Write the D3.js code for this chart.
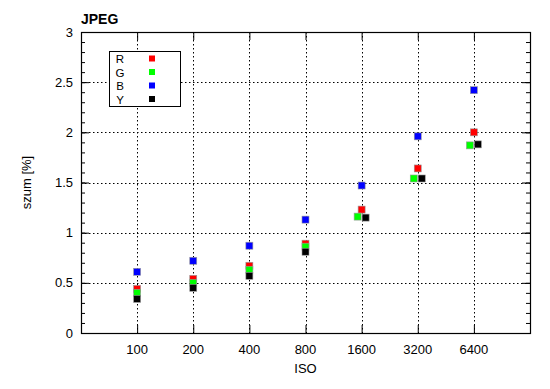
<!DOCTYPE html>
<html>
<head>
<meta charset="utf-8">
<script src="https://cdn.jsdelivr.net/npm/d3@7"></script>
<style>
  body { margin: 0; background: #fff; }
  text { font-family: "Liberation Sans", Arial, sans-serif; }
</style>
</head>
<body>
<div id="chart"></div>
<script>
// noise data
const isoValues = [100, 200, 400, 800, 1600, 3200, 6400];
const seriesNames = ["R", "G", "B", "Y"];
const seriesColors = ["#ff0000", "#00ff00", "#0000ff", "#000000"];
const rValues = [0.44, 0.54, 0.67, 0.89, 1.23, 1.64, 2.00];
const gValues = [0.40, 0.50, 0.63, 0.86, 1.16, 1.54, 1.87];
const bValues = [0.61, 0.72, 0.87, 1.13, 1.47, 1.96, 2.42];
const yValues = [0.34, 0.45, 0.57, 0.81, 1.15, 1.54, 1.88];
const yTicks = [0, 0.5, 1, 1.5, 2, 2.5, 3];

const W = 550, H = 389;
const margin = {top: 32, right: 20, bottom: 56, left: 81};

const svg = d3.select("#chart").append("svg")
  .attr("width", W).attr("height", H);

const x = d3.scaleLog().base(2).domain([50, 12800]).range([margin.left, W - margin.right]);
const y = d3.scaleLinear().domain([0, 3]).range([H - margin.bottom, margin.top]);

const x0 = margin.left, x1 = W - margin.right, y0 = H - margin.bottom, y1 = margin.top;

// grid
const grid = svg.append("g").attr("stroke", "#000").attr("stroke-width", 1)
  .attr("stroke-dasharray", "1.5,2.5");
grid.selectAll("line.gx").data(isoValues).join("line")
  .attr("x1", d => Math.round(x(d)) + 0.5).attr("x2", d => Math.round(x(d)) + 0.5)
  .attr("y1", y1).attr("y2", y0);
grid.selectAll("line.gy").data(yTicks.slice(1, -1)).join("line")
  .attr("x1", x0).attr("x2", x1)
  .attr("y1", d => Math.round(y(d)) + 0.5).attr("y2", d => Math.round(y(d)) + 0.5);

// axes (ticks pointing inward)
const minor = d3.range(0, 3.0001, 0.1);
svg.append("g").attr("transform", `translate(${x0},0)`)
  .call(d3.axisRight(y).tickValues(minor).tickSize(4).tickFormat(""))
  .call(g => g.select(".domain").remove());
svg.append("g").attr("transform", `translate(${x1},0)`)
  .call(d3.axisLeft(y).tickValues(minor).tickSize(4).tickFormat(""))
  .call(g => g.select(".domain").remove());
svg.append("g").attr("transform", `translate(${x0},0)`)
  .call(d3.axisRight(y).tickValues(yTicks).tickSize(8).tickFormat(""))
  .call(g => g.select(".domain").remove());
svg.append("g").attr("transform", `translate(${x1},0)`)
  .call(d3.axisLeft(y).tickValues(yTicks).tickSize(8).tickFormat(""))
  .call(g => g.select(".domain").remove());
svg.append("g").attr("transform", `translate(0,${y0})`)
  .call(d3.axisTop(x).tickValues(isoValues).tickSize(8).tickFormat(""))
  .call(g => g.select(".domain").remove());
svg.append("g").attr("transform", `translate(0,${y1})`)
  .call(d3.axisBottom(x).tickValues(isoValues).tickSize(8).tickFormat(""))
  .call(g => g.select(".domain").remove());

svg.append("rect")
  .attr("x", x0 + 0.5).attr("y", y1 + 0.5)
  .attr("width", x1 - x0).attr("height", y0 - y1)
  .attr("fill", "none").attr("stroke", "#000").attr("stroke-width", 1.2);

// tick labels
svg.append("g").selectAll("text").data(yTicks).join("text")
  .attr("x", x0 - 8).attr("y", d => y(d) + 4.5)
  .attr("text-anchor", "end").attr("font-size", 13)
  .text(d => d);
svg.append("g").selectAll("text").data(isoValues).join("text")
  .attr("x", d => x(d)).attr("y", y0 + 21)
  .attr("text-anchor", "middle").attr("font-size", 13)
  .text(d => d);

// axis titles
svg.append("text").attr("x", x(800)).attr("y", 373)
  .attr("text-anchor", "middle").attr("font-size", 13).text("ISO");
svg.append("text")
  .attr("transform", `translate(31,${(y0 + y1) / 2}) rotate(-90)`)
  .attr("text-anchor", "middle").attr("font-size", 13).text("szum [%]");
svg.append("text").attr("x", x0).attr("y", 24)
  .attr("font-size", 14).attr("font-weight", "bold").text("JPEG");

// points
const allSeries = [rValues, gValues, bValues, yValues];
const ms = 7;
// dodge G and Y sideways where they overlap
function dodge(si, i) {
  if (si !== 1 && si !== 3) return 0;
  const dy = Math.abs(y(gValues[i]) - y(yValues[i]));
  if (dy >= ms / 2) return 0;
  return si === 1 ? -4 : 4;
}
allSeries.forEach((vals, si) => {
  svg.append("g").selectAll("rect").data(vals).join("rect")
    .attr("x", (d, i) => x(isoValues[i]) + dodge(si, i) - ms / 2)
    .attr("y", d => y(d) - ms / 2)
    .attr("width", ms).attr("height", ms)
    .attr("fill", seriesColors[si])
    .attr("stroke", "#999").attr("stroke-width", 0.6);
});

// legend
const lg = svg.append("g");
lg.append("rect").attr("x", 109.5).attr("y", 51.5).attr("width", 71).attr("height", 55)
  .attr("fill", "#fff").attr("stroke", "#000").attr("stroke-width", 1);
seriesNames.forEach((n, i) => {
  const cy = 58.5 + i * 13.5;
  lg.append("text").attr("x", 120).attr("y", cy + 4.5)
    .attr("text-anchor", "middle").attr("font-size", 11.5)
    .text(n);
  lg.append("rect").attr("x", 152 - 3).attr("y", cy - 3)
    .attr("width", 6).attr("height", 6).attr("fill", seriesColors[i]);
});
</script>
</body>
</html>
